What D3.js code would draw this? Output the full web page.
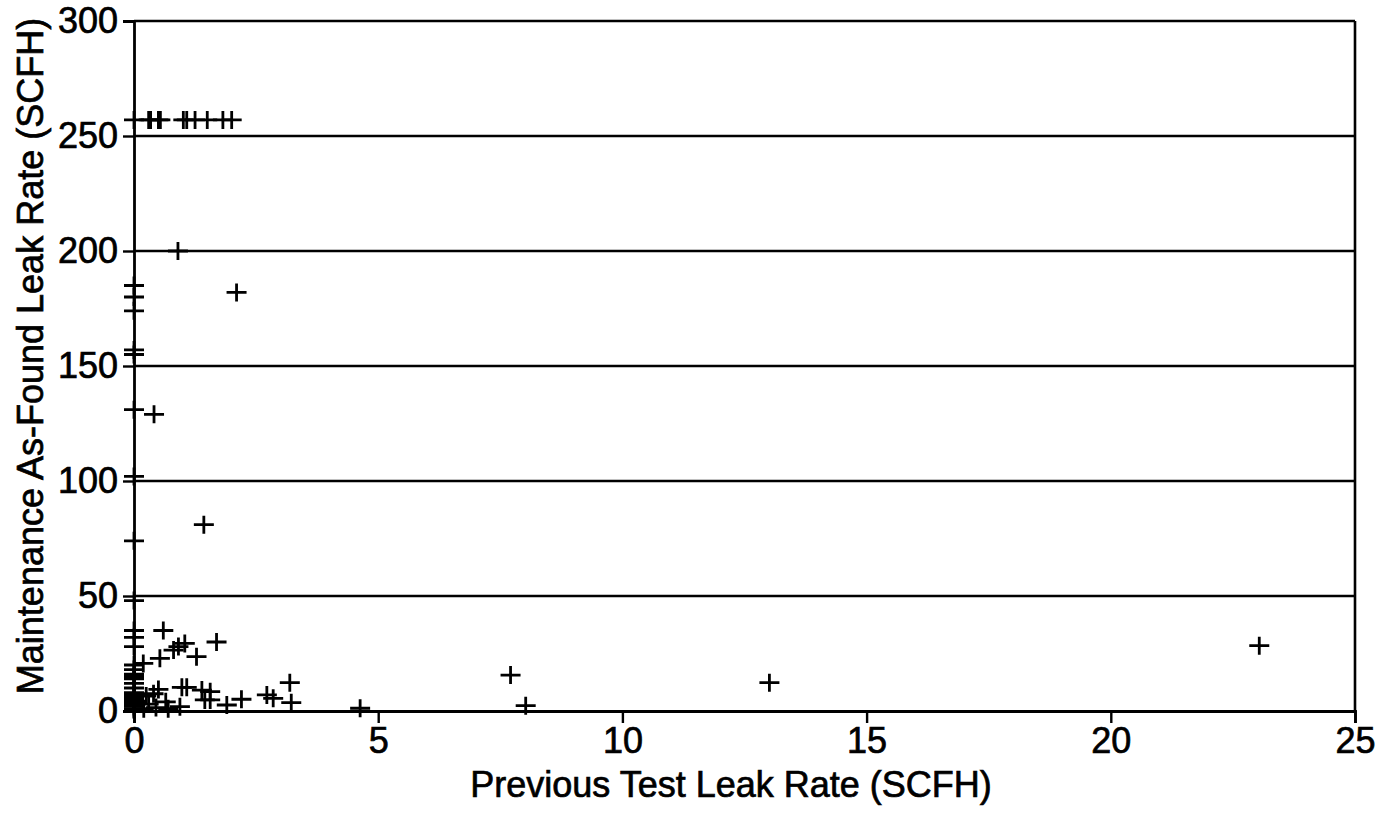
<!DOCTYPE html>
<html>
<head>
<meta charset="utf-8">
<script src="https://cdn.jsdelivr.net/npm/d3@7"></script>
<style>
  html, body { margin: 0; padding: 0; background: #fff; }
  svg { display: block; }
  text { font-family: "Liberation Sans", Arial, sans-serif; fill: #000; stroke: #000; stroke-width: 0.7px; }
</style>
</head>
<body>
<svg id="chart" width="1385" height="820"></svg>
<script>
// ---- data ----
const xTickValues = [0, 5, 10, 15, 20, 25];
const yTickValues = [0, 50, 100, 150, 200, 250, 300];
const xTitle = "Previous Test Leak Rate (SCFH)";
const yTitle = "Maintenance As-Found Leak Rate (SCFH)";

// previous test leak rate (x) and maintenance as-found leak rate (y)
const prevLeak = [
  0, 0.3, 0.34, 0.5, 0.54, 1.01, 1.08, 1.25, 1.5, 1.82, 2.0,
  0.9, 2.1, 0.41, 1.43,
  0, 0, 0, 0, 0, 0, 0, 0, 0, 0, 0, 0, 0,
  0, 0, 0, 0, 0, 0, 0, 0, 0, 0, 0, 0, 0, 0, 0,
  0.6, 1.69, 1.04, 0.91, 0.81, 1.28, 0.53, 0.19,
  0.5, 0.98, 1.08, 1.39, 1.56, 1.45, 1.56, 1.9, 2.2, 0.94,
  0.25, 0.4, 0.3, 0.45, 0.65, 0.7, 0.2,
  2.72, 2.85, 3.19, 3.22, 4.63,
  7.71, 8.02, 13.01, 23.04
];
const asFoundLeak = [
  257, 257, 257, 257, 257, 257, 257, 257, 257, 257, 257,
  200, 182, 129, 81,
  185, 180, 174, 157, 155, 131, 102, 74, 48, 35, 32, 28, 20,
  18, 16, 15, 14, 12, 10, 8, 7, 6, 5, 4, 3, 2, 1, 0.5,
  35, 30, 29.4, 28, 26.5, 23.6, 22.9, 20.7,
  9.4, 10.3, 10.3, 9.1, 8.4, 4.8, 4.8, 2.6, 5.1, 1.9,
  6.5, 7.5, 3, 1.5, 4, 1, 1,
  7.0, 5.5, 12.3, 3.6, 1.2,
  15.6, 2.3, 12.3, 28.4
];

// ---- layout ----
const svg = d3.select("#chart");
const mLeft = 134, mRight = 1355, mTop = 21, mBottom = 711;
const fontSize = 36;

const x = d3.scaleLinear().domain([0, 25]).range([mLeft, mRight]);
const y = d3.scaleLinear().domain([0, 300]).range([mBottom, mTop]);

// gridlines
svg.append("g")
  .selectAll("line")
  .data(yTickValues.filter(v => v > 0))
  .join("line")
  .attr("x1", mLeft).attr("x2", mRight)
  .attr("y1", d => y(d)).attr("y2", d => y(d))
  .attr("stroke", "#000").attr("stroke-width", 2.4);

// right border
svg.append("line")
  .attr("x1", mRight).attr("x2", mRight)
  .attr("y1", mTop).attr("y2", mBottom)
  .attr("stroke", "#000").attr("stroke-width", 2.6);

// x axis
const xAxis = svg.append("g")
  .attr("transform", `translate(0,${mBottom})`)
  .call(d3.axisBottom(x).tickValues(xTickValues).tickSize(12).tickPadding(4).tickFormat(d3.format("d")));
xAxis.select(".domain").attr("stroke", "#000").attr("stroke-width", 2.8);
xAxis.selectAll(".tick line").attr("stroke", "#000").attr("stroke-width", 2.4);
xAxis.selectAll(".tick text").attr("font-size", fontSize).attr("fill", "#000");

// y axis
const yAxis = svg.append("g")
  .attr("transform", `translate(${mLeft},0)`)
  .call(d3.axisLeft(y).tickValues(yTickValues).tickSize(11).tickPadding(5).tickFormat(d3.format("d")));
yAxis.select(".domain").attr("stroke", "#000").attr("stroke-width", 2.8);
yAxis.selectAll(".tick line").attr("stroke", "#000").attr("stroke-width", 2.4);
yAxis.selectAll(".tick text").attr("font-size", fontSize).attr("fill", "#000");

// titles
svg.append("text")
  .attr("x", 731).attr("y", 797)
  .attr("text-anchor", "middle")
  .attr("font-size", fontSize)
  .text(xTitle);

svg.append("text")
  .attr("transform", `translate(43,356) rotate(-90)`)
  .attr("text-anchor", "middle")
  .attr("font-size", fontSize)
  .text(yTitle);

// points as "+" markers
const pts = prevLeak.map((v, i) => ({ px: v, py: asFoundLeak[i] }));
svg.append("g")
  .selectAll("path")
  .data(pts)
  .join("path")
  .attr("transform", d => `translate(${x(d.px)},${y(d.py)})`)
  .attr("d", "M-10,0H10M0,-9V9")
  .attr("stroke", "#000")
  .attr("stroke-width", 2.8)
  .attr("fill", "none");
</script>
</body>
</html>
